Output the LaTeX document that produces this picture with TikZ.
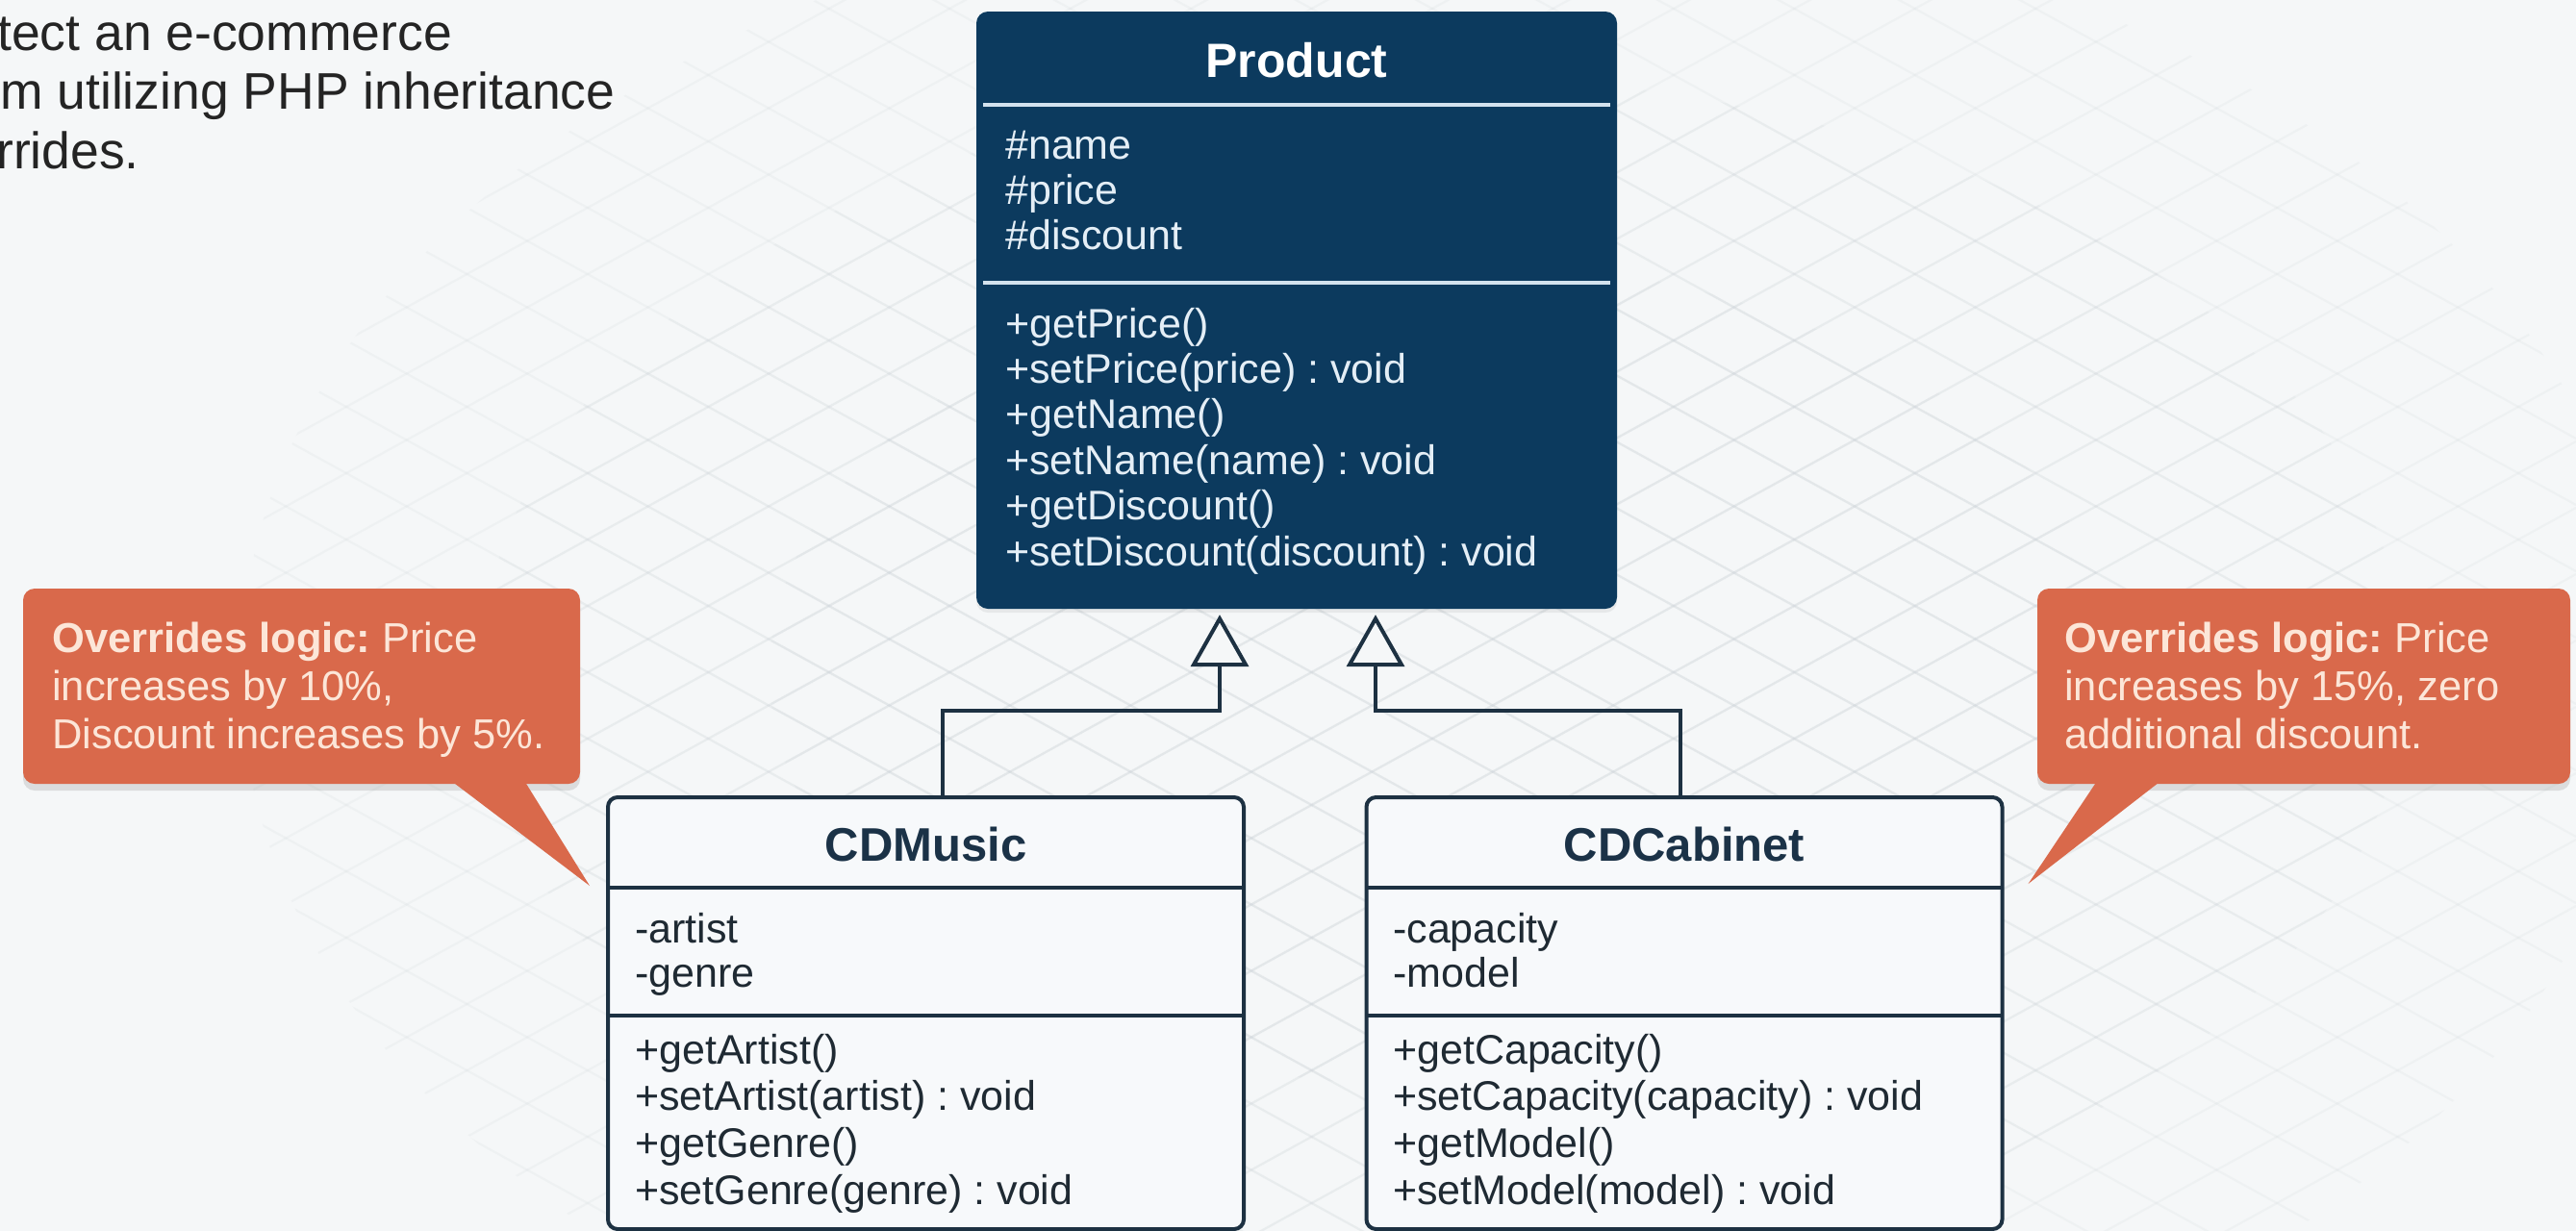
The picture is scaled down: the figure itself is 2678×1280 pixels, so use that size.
\documentclass[tikz,border=0pt]{standalone}
\usepackage{fontspec}
\setmainfont{Liberation Sans}
\usetikzlibrary{arrows.meta,shadows}
\frenchspacing

\definecolor{bgcol}{HTML}{F5F7F8}
\definecolor{gridcol}{HTML}{C9D0D6}
\definecolor{navy}{HTML}{0C3A5E}
\definecolor{navytext}{HTML}{E4EEF6}
\definecolor{navysep}{HTML}{D3E2EE}
\definecolor{boxline}{HTML}{1D3142}
\definecolor{boxfill}{HTML}{F7F9FB}
\definecolor{classtitle}{HTML}{1B3247}
\definecolor{classtext}{HTML}{1F2A33}
\definecolor{coral}{HTML}{D9694B}
\definecolor{cream}{HTML}{FCE6D8}
\definecolor{headtext}{HTML}{242424}

\begin{document}
\begin{tikzpicture}[x=1pt,y=-1pt,
  gridline/.style={draw=gridcol,line width=2.2pt,opacity=0.15},
  pclass/.style={fill=navy,rounded corners=12pt,inner sep=0pt,
    minimum width=666pt,minimum height=621pt,
    drop shadow={shadow xshift=0pt,shadow yshift=-4pt,opacity=0.12}},
  cclass/.style={draw=boxline,fill=boxfill,line width=4pt,rounded corners=10pt,
    inner sep=0pt,minimum width=661pt,minimum height=449pt},
  psep/.style={draw=navysep,line width=4pt},
  csep/.style={draw=boxline,line width=4pt},
  ptitle/.style={anchor=base,inner sep=0pt,text=white,font=\bfseries\fontsize{50}{55}\selectfont},
  ctitle/.style={anchor=base,inner sep=0pt,text=classtitle,font=\bfseries\fontsize{49}{54}\selectfont},
  ptext/.style={anchor=base west,inner sep=0pt,text=navytext,font=\fontsize{43}{47}\selectfont},
  ctext/.style={anchor=base west,inner sep=0pt,text=classtext,font=\fontsize{43}{47}\selectfont},
  inh/.style={draw=boxline,line width=4pt,line join=miter,
    -{Triangle[length=54pt,width=60pt,fill=bgcol]}},
  callout/.style={fill=coral,rounded corners=12pt,inner sep=0pt,
    drop shadow={shadow xshift=0pt,shadow yshift=-7pt,opacity=0.22}},
  notetext/.style={anchor=base west,inner sep=0pt,text=cream,font=\fontsize{43.5}{50}\selectfont},
  headline/.style={anchor=base west,inner sep=0pt,text=headtext,font=\fontsize{53.5}{62}\selectfont}
]
\useasboundingbox (0,0) rectangle (2678,1280);
\fill[bgcol] (0,0) rectangle (2678,1280);

% faint diagonal lattice, strongest in the middle
\begin{scope}
  \clip (0,0) rectangle (2678,1280);
  \foreach \rx/\ry in {1250/820,1000/620,700/430}{
    \begin{scope}
      \clip (1500,700) ellipse [x radius=\rx, y radius=\ry];
      \foreach \c in {-1500,-1431,...,1300}
        \draw[gridline] (0,\c) -- (2678,{\c+1473});
      \foreach \d in {0,69,...,2760}
        \draw[gridline] (0,\d) -- (2678,{\d-1473});
    \end{scope}
  }
\end{scope}

% heading (runs off the left edge)
\node[headline] (head1) at (-3,52) {tect an e-commerce};
\node[headline] (head2) at (0,113) {m utilizing PHP inheritance};
\node[headline] (head3) at (-4,175) {rrides.};

% base class
\node[pclass] (product) at (1348,322.5) {};
\node[ptitle] (ptitle) at (1348,80) {Product};
\draw[psep] (1022,109) -- (1674,109);
\draw[psep] (1022,294) -- (1674,294);
\foreach \t [count=\i from 0] in {{\#name},{\#price},{\#discount}}
  \node[ptext] (pa\i) at (1045,{165+47*\i}) {\t};
\foreach \t [count=\i from 0] in {{+getPrice()},{+setPrice(price) : void},{+getName()},{+setName(name) : void},{+getDiscount()},{+setDiscount(discount) : void}}
  \node[ptext] (pm\i) at (1045,{351+47.4*\i}) {\t};

% subclass CDMusic
\node[cclass] (cdmusic) at (962.5,1053.5) {};
\node[ctitle] (mtitle) at (962.5,895) {CDMusic};
\draw[csep] (632,923) -- (1293,923);
\draw[csep] (632,1056) -- (1293,1056);
\foreach \t [count=\i from 0] in {{-artist},{-genre}}
  \node[ctext] (ma\i) at (660,{980+46*\i}) {\t};
\foreach \t [count=\i from 0] in {{+getArtist()},{+setArtist(artist) : void},{+getGenre()},{+setGenre(genre) : void}}
  \node[ctext] (mm\i) at (660,{1106+48.7*\i}) {\t};

% subclass CDCabinet
\node[cclass] (cdcabinet) at (1751,1053.5) {};
\node[ctitle] (ctitle) at (1751,895) {CDCabinet};
\draw[csep] (1420,923) -- (2082,923);
\draw[csep] (1420,1056) -- (2082,1056);
\foreach \t [count=\i from 0] in {{-capacity},{-model}}
  \node[ctext] (ca\i) at (1448,{980+46*\i}) {\t};
\foreach \t [count=\i from 0] in {{+getCapacity()},{+setCapacity(capacity) : void},{+getModel()},{+setModel(model) : void}}
  \node[ctext] (cm\i) at (1448,{1106+48.7*\i}) {\t};

% inheritance connectors
\draw[inh] ([xshift=17.5pt]cdmusic.north) |- ([xshift=-80pt,yshift=-106pt]product.south)
  -- ([xshift=-80pt,yshift=-6pt]product.south);
\draw[inh] ([xshift=-4pt]cdcabinet.north) |- ([xshift=82pt,yshift=-106pt]product.south)
  -- ([xshift=82pt,yshift=-6pt]product.south);

% callouts
\coordinate (tipL) at ([xshift=-17pt,yshift=-94pt]cdmusic.north west);
\coordinate (tipR) at ([xshift=25pt,yshift=-92pt]cdcabinet.north east);

\node[callout,minimum width=579pt,minimum height=203pt] (noteL) at (313.5,713.5) {};
\fill[coral] ([xshift=152pt,yshift=6pt]noteL.south) -- (tipL)
  -- ([xshift=230pt,yshift=6pt]noteL.south) -- cycle;
\node[notetext] (noteL1) at (54,678) {\textbf{Overrides logic:} Price};
\node[notetext] (noteL2) at (54,728) {increases by 10\%,};
\node[notetext] (noteL3) at (54,778) {Discount increases by 5\%.};

\node[callout,minimum width=554pt,minimum height=203pt] (noteR) at (2395,713.5) {};
\fill[coral] ([xshift=-213pt,yshift=6pt]noteR.south) -- (tipR)
  -- ([xshift=-145pt,yshift=6pt]noteR.south) -- cycle;
\node[notetext] (noteR1) at (2146,678) {\textbf{Overrides logic:} Price};
\node[notetext] (noteR2) at (2146,728) {increases by 15\%, zero};
\node[notetext] (noteR3) at (2146,778) {additional discount.};
\end{tikzpicture}
\end{document}
